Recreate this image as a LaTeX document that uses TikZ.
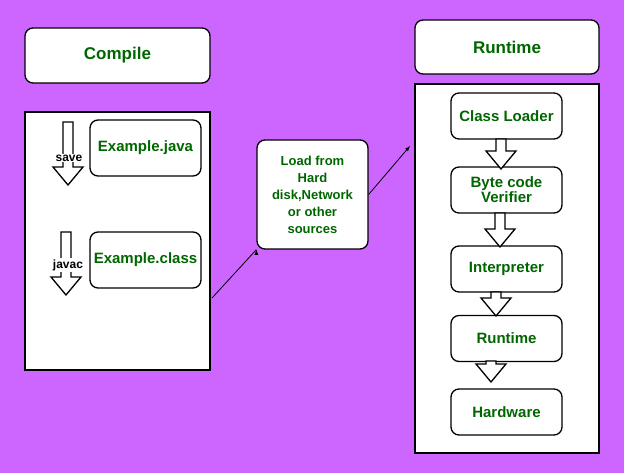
\documentclass[tikz,border=0pt]{standalone}
\usepackage{fontspec}
\setmainfont{Liberation Sans}
\usetikzlibrary{positioning}
\definecolor{bgpurple}{HTML}{CC66FF}
\definecolor{txtgreen}{HTML}{006600}
\tikzset{
  box/.style={draw=black,line width=1.3pt,fill=white,rounded corners=8pt,
    text=txtgreen,font=\bfseries\fontsize{15}{17}\selectfont,align=center,
    minimum width=111pt,minimum height=46pt,inner sep=1pt},
  panel/.style={draw=black,line width=1.3pt,fill=white},
  hollow/.style={draw=black,line width=1.3pt,fill=white},
  tag/.style={fill=white,inner sep=1pt,font=\bfseries\fontsize{12}{14}\selectfont}
}
% hollow down arrow: x, top, bottom
\newcommand{\hollowarrow}[3]{%
  \draw[hollow] (#1-5,#2) -- (#1+5,#2) -- (#1+5,#3-18) -- (#1+15,#3-18)
    -- (#1,#3) -- (#1-15,#3-18) -- (#1-5,#3-18) -- cycle;}
\begin{document}
\begin{tikzpicture}[x=1pt,y=-1pt]
\fill[bgpurple] (0,0) rectangle (624,473);
\useasboundingbox (0,0) rectangle (624,473);

% compile side
\node[box,minimum width=185pt,minimum height=55pt,font=\bfseries\fontsize{17}{19}\selectfont] (compile) at (117.5,55.5) {Compile};
\draw[panel] (25,112) rectangle (210,370);
\coordinate (panelout) at (212,298);
\node[box,minimum width=111pt,minimum height=56pt] (java) at (145.5,148) {Example.java};
\node[box,minimum width=111pt,minimum height=56pt] (class) at (145.5,260) {Example.class};
\hollowarrow{68}{122}{185}
\node[tag] (save) at (69,158) {save};
\hollowarrow{66}{232}{295}
\node[tag] (javac) at (68,265) {javac};

% loading
\node[box,minimum width=111pt,minimum height=109pt,font=\bfseries\fontsize{13}{17}\selectfont] (load) at (312.5,194.5) {Load from\\Hard\\disk,Network\\or other\\sources};
\coordinate (panelin) at (410,146);
\draw[-latex,line width=0.8pt] (panelout) -- (load.south west) ++(0,0);
\draw[-latex,line width=0.8pt] (load.east) -- (panelin);

% runtime side
\node[box,minimum width=184pt,minimum height=54pt,font=\bfseries\fontsize{17}{19}\selectfont] (runtime) at (507,47) {Runtime};
\draw[panel] (415,84) rectangle (599,453);
\node[box] (loader) at (506.5,116) {Class Loader};
\node[box] (verifier) at (506.5,190) {Byte code\\[-2pt]Verifier};
\node[box] (interp) at (506.5,269) {Interpreter};
\node[box] (rt) at (506.5,338.5) {Runtime};
\node[box] (hw) at (506.5,412) {Hardware};
\hollowarrow{501}{139}{169}
\hollowarrow{500}{213}{247}
\hollowarrow{496}{292}{316}
\hollowarrow{491}{361}{382}
\end{tikzpicture}
\end{document}
